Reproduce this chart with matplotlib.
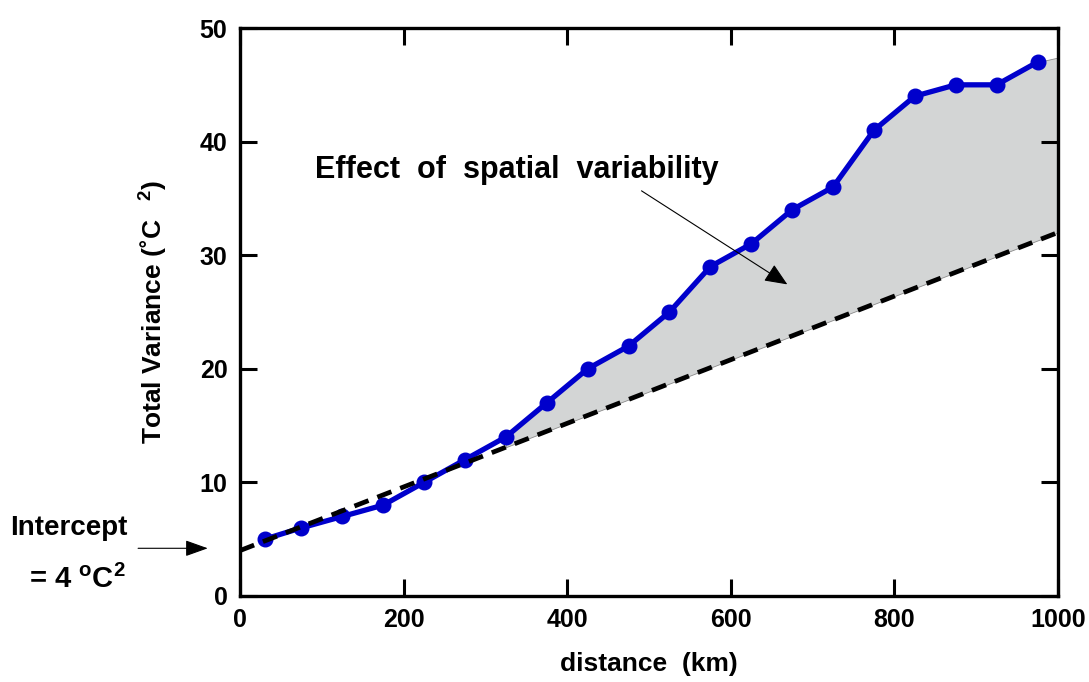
import numpy as np
import matplotlib.pyplot as plt

plt.rcParams['font.family'] = ['Liberation Sans', 'DejaVu Sans']
plt.rcParams['font.weight'] = 'bold'
plt.rcParams['mathtext.fontset'] = 'custom'
plt.rcParams['mathtext.bf'] = 'Liberation Sans:bold'
plt.rcParams['mathtext.rm'] = 'Liberation Sans:bold'

# measured total variance vs. distance
distance = [30, 75, 125, 175, 225, 275, 325, 375, 425, 475,
            525, 575, 625, 675, 725, 775, 825, 875, 925, 975]
variance = [5, 6, 7, 8, 10, 12, 14, 17, 20, 22,
            25, 29, 31, 34, 36, 41, 44, 45, 45, 47]

# linear fit (intercept 4 degC^2)
fit_x = [0, 1000]
fit_y = [4, 32]

# shaded region: curve from 325 km onward, extended to the axis edge
shade_x = distance[6:] + [1000]
shade_top = variance[6:] + [47.4]

x_ticks = [0, 200, 400, 600, 800, 1000]
y_ticks = [0, 10, 20, 30, 40, 50]

fig = plt.figure(figsize=(10.89, 6.82), dpi=100)
ax = fig.add_axes([0.2204, 0.1261, 0.7511, 0.8328])

shade_bottom = np.interp(shade_x, fit_x, fit_y)
ax.fill_between(shade_x, shade_bottom, shade_top, facecolor='#d3d5d5',
                edgecolor='#8a8a8a', linewidth=0.6, zorder=1)

ax.plot(distance, variance, color='#0000cc', linewidth=3.8, marker='o',
        markersize=10.5, zorder=2)
ax.plot(fit_x, fit_y, color='black', linewidth=3.4, linestyle=(0, (3.2, 2.0)),
        zorder=3)

ax.set_xlim(0, 1000)
ax.set_ylim(0, 50)
ax.set_xticks(x_ticks)
ax.set_yticks(y_ticks)
ax.tick_params(direction='in', length=12, width=2.2, labelsize=18,
               top=True, right=True, pad=9)
for lab in ax.get_xticklabels() + ax.get_yticklabels():
    lab.set_fontweight('bold')
for sp in ax.spines.values():
    sp.set_linewidth(2.4)

ax.set_xlabel('distance  (km)', fontsize=19, fontweight='bold', labelpad=14)
ax.set_ylabel('Total Variance (˚C$^{\\ \\ \\ \\mathbf{2}}$)', fontsize=19,
              fontweight='bold', labelpad=22)

ax.text(338, 37.5, 'Effect  of  spatial  variability', fontsize=22,
        fontweight='bold', ha='center', va='center')
ax.annotate('', xy=(672, 27.3), xytext=(488, 35.8),
            arrowprops=dict(arrowstyle='-|>,head_length=1.4,head_width=0.6',
                            color='black', lw=0.8))

ax.annotate('', xy=(-36, 4.2), xytext=(-128, 4.2), annotation_clip=False,
            arrowprops=dict(arrowstyle='-|>,head_length=1.4,head_width=0.5',
                            color='black', lw=0.8))
fig.text(0.063, 0.226, 'Intercept', fontsize=20, fontweight='bold',
         ha='center', va='center')
fig.text(0.071, 0.150, '= 4 $^{\\mathbf{o}}$C$^{\\mathbf{2}}$', fontsize=21,
         fontweight='bold', ha='center', va='center')

fig.savefig('out.png', dpi=100)
